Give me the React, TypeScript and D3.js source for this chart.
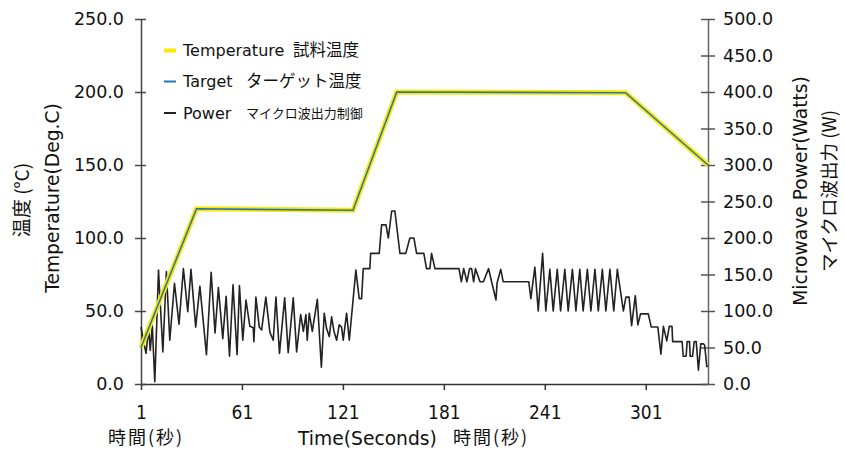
import React, { useEffect, useRef } from 'react';
import * as d3 from 'd3';

// x axis tick labels (seconds)
const timeTicks = [1, 61, 121, 181, 241, 301];
const tempTicks = [0, 50, 100, 150, 200, 250];
const powerTicks = [0, 50, 100, 150, 200, 250, 300, 350, 400, 450, 500];

// temperature / target profile (seconds, deg C)
const tempTime = [1, 34, 127, 153, 289, 338];
const temperature = [25, 120, 119, 200, 199.5, 150];
const target = [25, 120, 119, 200, 199.5, 150];

// microwave power (seconds, W)
const powerTime = [
  1, 3, 4, 5.5, 6.5, 7.7, 9.2, 11.4, 14, 16.1, 18.1, 20.9, 23.6, 26.2, 28.8, 30.7,
  33.5, 36, 39.9, 42.7, 45, 47, 49.6, 51.6, 53.6, 55.7, 58.1, 59.5, 61.5, 63.4, 65.7,
  67.7, 68.1, 69.3, 71.3, 72.7, 75.2, 77.6, 79.6, 81.2, 83.3, 86.4, 88.5, 91.5, 93.5,
  95.9, 97.5, 99, 99.8, 101, 102.8, 105.8, 108.2, 109.9, 111.3, 112.9, 114.3, 115.7,
  117.3, 118.8, 120.2, 121.2, 123.2, 124.8, 128.7, 130.7, 132.1, 133.1, 137, 137.5,
  142.6, 144, 146.6, 148, 150, 151.9, 154.9, 158.4, 160.8, 163.2, 164.8, 169.1, 170.7,
  172.7, 173.7, 175.7, 190, 191.4, 192.8, 194.7, 196.3, 197.5, 198.7, 199.8, 202.5,
  204.5, 207.6, 209.6, 212, 212.6, 214.8, 216.3, 231.5, 232.7, 235.1, 237.1, 239.7,
  241.6, 244, 246, 248.4, 250.4, 252.9, 254.9, 257.4, 259.5, 261.8, 263.8, 266.3,
  268.4, 270.8, 272.8, 275.2, 277.3, 279.7, 282, 284.1, 287.7, 289.2, 291.1, 292.6,
  294.8, 296.3, 297.9, 302.5, 304.3, 308.2, 310, 311.5, 313.5, 315, 316.6, 317, 322.6,
  323.3, 325, 325.6, 327, 327.4, 328.8, 329.8, 331, 332.3, 333.7, 335.3, 336, 337.3, 338,
];
const power = [
  78, 53, 42, 77, 46, 80, 3, 156, 44, 154, 60, 138, 82, 158, 99, 157,
  78, 134, 40, 153, 70, 132, 62, 120, 38, 136, 40, 135, 60, 115, 79,
  77, 58, 119, 78, 74, 119, 71, 60, 119, 42, 118, 43, 118, 44,
  95, 72, 95, 60, 97, 72, 116, 23, 97, 76, 65, 92, 72,
  60, 81, 78, 60, 97, 60, 156, 117, 117, 158, 158, 179,
  179, 218, 218, 200, 237, 237, 179, 179, 200, 200, 179, 179, 158,
  158, 179, 158, 158, 140, 158, 140, 158, 158, 140, 158, 140,
  140, 158, 138, 115, 138, 157, 140, 140, 117, 160, 100, 179,
  100, 157, 100, 157, 100, 157, 100, 157, 100, 157, 100, 157,
  100, 157, 100, 157, 100, 157, 100, 157, 100, 119, 119, 80,
  121, 81, 96, 96, 78, 78, 41, 79, 59, 79, 79, 58, 58,
  38, 38, 58, 58, 38, 38, 58, 58, 19, 55, 55, 53, 24, 24,
];

const latin = "'DejaVu Sans', 'Noto Sans CJK JP', sans-serif";
const jp = "'Noto Sans CJK JP', sans-serif";
const narrow = "'Liberation Sans Narrow', 'DejaVu Sans Condensed', 'Liberation Sans', sans-serif";

function drawChart(container: SVGSVGElement) {
  const svg = d3.select(container);
  svg.selectAll('*').remove();

  const W = 845, H = 453;
  const margin = { top: 19, right: 137, bottom: 69, left: 141 };
  const width = W - margin.left - margin.right;
  const height = H - margin.top - margin.bottom;

  const g = svg.append('g').attr('transform', `translate(${margin.left},${margin.top})`);

  const x = d3.scaleLinear().domain([1, 338]).range([0, width]);
  const yT = d3.scaleLinear().domain([0, 250]).range([height, 0]);
  const yP = d3.scaleLinear().domain([0, 500]).range([height, 0]);

  // bottom axis
  const xAxis = g.append('g')
    .attr('transform', `translate(0,${height})`)
    .call(d3.axisBottom(x).tickValues(timeTicks).tickSizeInner(6).tickSizeOuter(0).tickPadding(16));
  xAxis.select('.domain').attr('stroke', '#333').attr('stroke-width', 1.5);
  xAxis.selectAll('.tick line').attr('stroke', '#333').attr('stroke-width', 1.5);
  xAxis.selectAll('.tick text')
    .attr('fill', '#111')
    .style('font-family', narrow)
    .style('font-size', '19px');

  // left axis
  const lAxis = g.append('g')
    .call(d3.axisLeft(yT).tickValues(tempTicks).tickFormat(d3.format('.1f'))
      .tickSizeInner(6).tickSizeOuter(0).tickPadding(11));
  lAxis.select('.domain').attr('stroke', '#444').attr('stroke-width', 1.5);
  lAxis.selectAll('.tick line').attr('x1', 5).attr('stroke', '#444').attr('stroke-width', 1.5);
  lAxis.selectAll('.tick text')
    .attr('fill', '#111')
    .style('font-family', latin)
    .style('font-size', '17.5px');

  // right axis
  const rAxis = g.append('g')
    .attr('transform', `translate(${width},0)`)
    .call(d3.axisRight(yP).tickValues(powerTicks).tickFormat(d3.format('.1f'))
      .tickSizeInner(7).tickSizeOuter(0).tickPadding(8));
  rAxis.select('.domain').attr('stroke', '#666').attr('stroke-width', 1.5);
  rAxis.selectAll('.tick line').attr('x1', -7).attr('stroke', '#555').attr('stroke-width', 1.5);
  rAxis.selectAll('.tick text')
    .attr('fill', '#111')
    .style('font-family', latin)
    .style('font-size', '17.5px');

  // power line
  const powerData = powerTime.map((t, i) => ({ t, v: power[i] }));
  g.append('path')
    .datum(powerData)
    .attr('fill', 'none')
    .attr('stroke', '#222')
    .attr('stroke-width', 1.6)
    .attr('stroke-linejoin', 'round')
    .attr('d', d3.line<{ t: number; v: number }>().x(d => x(d.t)).y(d => yP(d.v)));

  // temperature (thick yellow) and target (thin blue)
  const tempLine = d3.line<{ t: number; v: number }>().x(d => x(d.t)).y(d => yT(d.v));
  g.append('path')
    .datum(tempTime.map((t, i) => ({ t, v: temperature[i] })))
    .attr('fill', 'none')
    .attr('stroke', '#FFE800')
    .attr('stroke-width', 5)
    .attr('d', tempLine);
  g.append('path')
    .datum(tempTime.map((t, i) => ({ t, v: target[i] })))
    .attr('fill', 'none')
    .attr('stroke', '#2677B8')
    .attr('stroke-width', 1.6)
    .attr('d', tempLine);

  // legend
  const legend = svg.append('g').attr('transform', 'translate(164,0)');
  const rows = [
    { en: 'Temperature', ja: '試料温度', jx: 129, jsize: 16.5, color: '#FFE800', sw: 4, y: 50.5 },
    { en: 'Target', ja: 'ターゲット温度', jx: 82, jsize: 16.5, color: '#2677B8', sw: 2, y: 81.5 },
    { en: 'Power', ja: 'マイクロ波出力制御', jx: 82, jsize: 13, color: '#222', sw: 2, y: 113 },
  ];
  rows.forEach(r => {
    legend.append('line')
      .attr('x1', 0).attr('x2', 12)
      .attr('y1', r.y).attr('y2', r.y)
      .attr('stroke', r.color).attr('stroke-width', r.sw);
    legend.append('text')
      .attr('x', 19).attr('y', r.y).attr('dy', '0.35em')
      .style('font-family', latin).style('font-size', '16px').attr('fill', '#111')
      .text(r.en);
    legend.append('text')
      .attr('x', r.jx).attr('y', r.y).attr('dy', '0.35em')
      .style('font-family', jp).style('font-size', `${r.jsize}px`).attr('fill', '#111')
      .text(r.ja);
  });

  // axis titles
  const title = (tx: number, ty: number, text: string, font: string, size: number) =>
    svg.append('text')
      .attr('transform', `translate(${tx},${ty}) rotate(-90)`)
      .attr('text-anchor', 'middle')
      .attr('dy', '0.35em')
      .style('font-family', font).style('font-size', `${size}px`).attr('fill', '#111')
      .text(text);
  title(52, 198, 'Temperature(Deg.C)', latin, 18.7);
  title(22, 200, '温度 (°C)', jp, 19);
  title(800, 191, 'Microwave Power(Watts)', latin, 18.7);
  title(830, 191, 'マイクロ波出力 (W)', jp, 18.5);

  const bottomLabel = (bx: number, text: string, font: string, size: number, spacing = 0) =>
    svg.append('text')
      .attr('x', bx).attr('y', 438).attr('dy', '0.35em')
      .style('font-family', font).style('font-size', `${size}px`)
      .style('letter-spacing', `${spacing}px`).attr('fill', '#111')
      .text(text);
  bottomLabel(108, '時間(秒)', jp, 18, 2);
  bottomLabel(298, 'Time(Seconds)', latin, 18.7);
  bottomLabel(453, '時間(秒)', jp, 18, 2);
}

const App = () => {
  const ref = useRef<SVGSVGElement>(null);
  useEffect(() => {
    if (ref.current) drawChart(ref.current);
  }, []);
  return (
    <svg ref={ref} width={845} height={453}
      style={{ position: 'absolute', left: 0, top: 0, background: '#fff' }} />
  );
};

export default App;
